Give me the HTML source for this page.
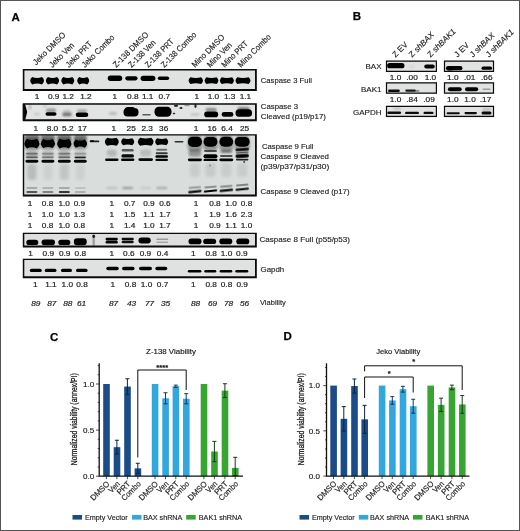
<!DOCTYPE html>
<html><head><meta charset="utf-8"><title>Figure</title>
<style>html,body{margin:0;padding:0;background:#fff}svg{display:block}text{font-family:"Liberation Sans",sans-serif}</style>
</head><body>
<svg width="520" height="531" viewBox="0 0 520 531" font-family="'Liberation Sans', sans-serif">
<defs>
<filter id="b1" x="-30%" y="-60%" width="160%" height="220%"><feGaussianBlur stdDeviation="0.7"/></filter>
<filter id="b2" x="-30%" y="-60%" width="160%" height="220%"><feGaussianBlur stdDeviation="1.1"/></filter>
<filter id="b3" x="-30%" y="-80%" width="160%" height="260%"><feGaussianBlur stdDeviation="1.8"/></filter>
<filter id="b0" x="-30%" y="-60%" width="160%" height="220%"><feGaussianBlur stdDeviation="0.45"/></filter>
</defs>
<rect x="0" y="0" width="520" height="531" fill="#fff"/>
<g opacity="0.999">
<text x="11.4" y="20.7" font-size="11.5" text-anchor="start" fill="#000" font-weight="bold" stroke="#000" stroke-width="0.25">A</text>
<text x="352.7" y="20.4" font-size="11.5" text-anchor="start" fill="#000" font-weight="bold" stroke="#000" stroke-width="0.25">B</text>
<text x="50.1" y="340.5" font-size="11.5" text-anchor="start" fill="#000" font-weight="bold" stroke="#000" stroke-width="0.25">C</text>
<text x="283.4" y="340.3" font-size="11.5" text-anchor="start" fill="#000" font-weight="bold" stroke="#000" stroke-width="0.25">D</text>
<text font-size="8.3" text-anchor="start" fill="#1c1c1c" transform="translate(36.2 65.5) rotate(-45) scale(0.95 1)"  stroke="#1c1c1c" stroke-width="0.14">Jeko DMSO</text>
<text font-size="8.3" text-anchor="start" fill="#1c1c1c" transform="translate(52.6 68) rotate(-45) scale(0.914 1)"  stroke="#1c1c1c" stroke-width="0.14">Jeko Ven</text>
<text font-size="8.3" text-anchor="start" fill="#1c1c1c" transform="translate(69 68) rotate(-45) scale(0.914 1)"  stroke="#1c1c1c" stroke-width="0.14">Jeko PRT</text>
<text font-size="8.3" text-anchor="start" fill="#1c1c1c" transform="translate(85 68) rotate(-45) scale(0.914 1)"  stroke="#1c1c1c" stroke-width="0.14">Jeko Combo</text>
<text font-size="8.3" text-anchor="start" fill="#1c1c1c" transform="translate(116.2 68) rotate(-45) scale(0.95 1)"  stroke="#1c1c1c" stroke-width="0.14">Z-138 DMSO</text>
<text font-size="8.3" text-anchor="start" fill="#1c1c1c" transform="translate(131.6 68) rotate(-45) scale(0.914 1)"  stroke="#1c1c1c" stroke-width="0.14">Z-138 Ven</text>
<text font-size="8.3" text-anchor="start" fill="#1c1c1c" transform="translate(148.3 68) rotate(-45) scale(0.914 1)"  stroke="#1c1c1c" stroke-width="0.14">Z-138 PRT</text>
<text font-size="8.3" text-anchor="start" fill="#1c1c1c" transform="translate(164.3 68) rotate(-45) scale(0.914 1)"  stroke="#1c1c1c" stroke-width="0.14">Z-138 Combo</text>
<text font-size="8.3" text-anchor="start" fill="#1c1c1c" transform="translate(194.9 68) rotate(-45) scale(0.95 1)"  stroke="#1c1c1c" stroke-width="0.14">Mino DMSO</text>
<text font-size="8.3" text-anchor="start" fill="#1c1c1c" transform="translate(210.2 68) rotate(-45) scale(0.914 1)"  stroke="#1c1c1c" stroke-width="0.14">Mino Ven</text>
<text font-size="8.3" text-anchor="start" fill="#1c1c1c" transform="translate(224.7 68) rotate(-45) scale(0.914 1)"  stroke="#1c1c1c" stroke-width="0.14">Mino PRT</text>
<text font-size="8.3" text-anchor="start" fill="#1c1c1c" transform="translate(241 68) rotate(-45) scale(0.914 1)"  stroke="#1c1c1c" stroke-width="0.14">Mino Combo</text>
<rect x="22.8" y="69.1" width="234.0" height="21.900000000000006" fill="#dfe2e1"/>
<clipPath id="c1"><rect x="22.8" y="69.1" width="234.0" height="21.900000000000006"/></clipPath><g clip-path="url(#c1)">
<path d="M32.22 77.00Q37.10 78.80 41.98 77.00Q46.05 80.70 41.98 84.40Q37.10 82.60 32.22 84.40Q28.15 80.70 32.22 77.00Z" fill="#000" opacity="1.0" filter="url(#b1)"/>
<path d="M47.92 77.00Q52.50 78.80 57.08 77.00Q61.15 80.70 57.08 84.40Q52.50 82.60 47.92 84.40Q43.85 80.70 47.92 77.00Z" fill="#000" opacity="1.0" filter="url(#b1)"/>
<path d="M63.32 77.00Q67.80 78.80 72.28 77.00Q76.35 80.70 72.28 84.40Q67.80 82.60 63.32 84.40Q59.25 80.70 63.32 77.00Z" fill="#000" opacity="1.0" filter="url(#b1)"/>
<path d="M79.22 77.00Q83.20 78.80 87.18 77.00Q91.25 80.70 87.18 84.40Q83.20 82.60 79.22 84.40Q75.15 80.70 79.22 77.00Z" fill="#000" opacity="1.0" filter="url(#b1)"/>
<rect x="107.75" y="75.60" width="14.5" height="5.4" rx="2.7" fill="#000" opacity="1.0" filter="url(#b1)"/>
<rect x="125.25" y="76.20" width="12.3" height="4.2" rx="2.1" fill="#000" opacity="1.0" filter="url(#b1)"/>
<rect x="140.60" y="75.70" width="14.8" height="5.2" rx="2.6" fill="#000" opacity="1.0" filter="url(#b1)"/>
<rect x="157.80" y="76.50" width="11.4" height="3.6" rx="1.8" fill="#000" opacity="1.0" filter="url(#b1)"/>
<path d="M190.44 77.30Q195.80 78.90 201.16 77.30Q204.90 80.70 201.16 84.10Q195.80 82.50 190.44 84.10Q186.70 80.70 190.44 77.30Z" fill="#000" opacity="1.0" filter="url(#b1)"/>
<path d="M206.44 77.30Q211.50 78.90 216.56 77.30Q220.30 80.70 216.56 84.10Q211.50 82.50 206.44 84.10Q202.70 80.70 206.44 77.30Z" fill="#000" opacity="1.0" filter="url(#b1)"/>
<path d="M221.74 77.30Q226.90 78.90 232.06 77.30Q235.80 80.70 232.06 84.10Q226.90 82.50 221.74 84.10Q218.00 80.70 221.74 77.30Z" fill="#000" opacity="1.0" filter="url(#b1)"/>
<path d="M237.34 77.30Q243.00 78.90 248.66 77.30Q252.40 80.70 248.66 84.10Q243.00 82.50 237.34 84.10Q233.60 80.70 237.34 77.30Z" fill="#000" opacity="1.0" filter="url(#b1)"/>
</g>
<path fill="#0c0c0c" fill-rule="evenodd" d="M22.8 69.1H256.8V91H22.8ZM24.400000000000002 70.39999999999999V89.0H255.0V70.39999999999999Z"/>
<text font-size="7.2" text-anchor="middle" fill="#1c1c1c" transform="translate(37.1 98.6) scale(1.15 1)" stroke="#1c1c1c" stroke-width="0.18">1</text>
<text font-size="7.2" text-anchor="middle" fill="#1c1c1c" transform="translate(53.7 98.6) scale(1.15 1)" stroke="#1c1c1c" stroke-width="0.18">0.9</text>
<text font-size="7.2" text-anchor="middle" fill="#1c1c1c" transform="translate(68.2 98.6) scale(1.15 1)" stroke="#1c1c1c" stroke-width="0.18">1.2</text>
<text font-size="7.2" text-anchor="middle" fill="#1c1c1c" transform="translate(85.9 98.6) scale(1.15 1)" stroke="#1c1c1c" stroke-width="0.18">1.2</text>
<text font-size="7.2" text-anchor="middle" fill="#1c1c1c" transform="translate(114.8 98.6) scale(1.15 1)" stroke="#1c1c1c" stroke-width="0.18">1</text>
<text font-size="7.2" text-anchor="middle" fill="#1c1c1c" transform="translate(132.8 98.6) scale(1.15 1)" stroke="#1c1c1c" stroke-width="0.18">0.8</text>
<text font-size="7.2" text-anchor="middle" fill="#1c1c1c" transform="translate(147.7 98.6) scale(1.15 1)" stroke="#1c1c1c" stroke-width="0.18">1.1</text>
<text font-size="7.2" text-anchor="middle" fill="#1c1c1c" transform="translate(164.3 98.6) scale(1.15 1)" stroke="#1c1c1c" stroke-width="0.18">0.7</text>
<text font-size="7.2" text-anchor="middle" fill="#1c1c1c" transform="translate(196.9 98.6) scale(1.15 1)" stroke="#1c1c1c" stroke-width="0.18">1</text>
<text font-size="7.2" text-anchor="middle" fill="#1c1c1c" transform="translate(213.4 98.6) scale(1.15 1)" stroke="#1c1c1c" stroke-width="0.18">1.0</text>
<text font-size="7.2" text-anchor="middle" fill="#1c1c1c" transform="translate(229.7 98.6) scale(1.15 1)" stroke="#1c1c1c" stroke-width="0.18">1.3</text>
<text font-size="7.2" text-anchor="middle" fill="#1c1c1c" transform="translate(245.4 98.6) scale(1.15 1)" stroke="#1c1c1c" stroke-width="0.18">1.1</text>
<rect x="22.8" y="103.2" width="234.0" height="18.0" fill="#e1e4e3"/>
<clipPath id="c2"><rect x="22.8" y="103.2" width="234.0" height="18.0"/></clipPath><g clip-path="url(#c2)">
<path d="M22 104 L25 104 L27.2 112 L25 120.5 L22 120.5Z" fill="#000" filter="url(#b0)"/>
<rect x="29.00" y="104.50" width="2" height="5" rx="2.5" fill="#000" opacity="0.25" filter="url(#b2)"/>
<rect x="43.50" y="105.00" width="3" height="2" rx="1.0" fill="#000" opacity="0.2" filter="url(#b2)"/>
<rect x="34.00" y="112.50" width="6" height="3" rx="1.5" fill="#000" opacity="0.1" filter="url(#b2)"/>
<rect x="46.00" y="108.50" width="10" height="4" rx="2.0" fill="#000" opacity="0.32" filter="url(#b2)"/>
<rect x="45.50" y="112.20" width="11" height="3.6" rx="1.8" fill="#000" opacity="1" filter="url(#b1)"/>
<rect x="63.00" y="110.00" width="8" height="3" rx="1.5" fill="#000" opacity="0.15" filter="url(#b2)"/>
<rect x="62.25" y="112.70" width="9.5" height="3.6" rx="1.8" fill="#000" opacity="0.5" filter="url(#b2)"/>
<rect x="77.00" y="109.50" width="10" height="3" rx="1.5" fill="#000" opacity="0.3" filter="url(#b2)"/>
<rect x="75.75" y="112.50" width="12.5" height="4.6" rx="2.3" fill="#000" opacity="1" filter="url(#b1)"/>
<rect x="109.00" y="112.00" width="8" height="3" rx="1.5" fill="#000" opacity="0.18" filter="url(#b2)"/>
<rect x="123.50" y="108.05" width="15" height="8.5" rx="4" fill="#000" opacity="1" filter="url(#b1)"/>
<rect x="125.00" y="107.00" width="10" height="5" rx="2.5" fill="#000" opacity="1" filter="url(#b1)"/>
<rect x="142.25" y="114.00" width="8.5" height="1.6" rx="0.8" fill="#000" opacity="0.6" filter="url(#b1)"/>
<rect x="154.50" y="106.80" width="17" height="10" rx="4.5" fill="#000" opacity="1" filter="url(#b1)"/>
<rect x="174.00" y="104.90" width="4" height="1.8" rx="0.9" fill="#000" opacity="0.9" filter="url(#b0)"/>
<rect x="179.50" y="107.00" width="3" height="2" rx="1.0" fill="#000" opacity="0.8" filter="url(#b0)"/>
<rect x="172.75" y="112.75" width="2.5" height="1.5" rx="0.75" fill="#000" opacity="0.8" filter="url(#b0)"/>
<rect x="194.40" y="104.00" width="2.2" height="4" rx="2.0" fill="#000" opacity="0.85" filter="url(#b0)"/>
<rect x="184.50" y="104.75" width="5" height="1.5" rx="0.75" fill="#000" opacity="0.3" filter="url(#b1)"/>
<rect x="190.50" y="113.25" width="9" height="2.5" rx="1.25" fill="#000" opacity="0.15" filter="url(#b2)"/>
<rect x="205.70" y="108.05" width="11" height="3.5" rx="1.75" fill="#000" opacity="0.4" filter="url(#b2)"/>
<rect x="204.20" y="111.60" width="14" height="5.6" rx="2.8" fill="#000" opacity="1" filter="url(#b1)"/>
<rect x="221.60" y="112.00" width="11.8" height="4.8" rx="2.4" fill="#000" opacity="0.97" filter="url(#b1)"/>
<rect x="237.60" y="107.25" width="12" height="3.5" rx="1.75" fill="#000" opacity="0.5" filter="url(#b2)"/>
<rect x="235.55" y="109.20" width="16.5" height="7.6" rx="3.5" fill="#000" opacity="1" filter="url(#b1)"/>
</g>
<path fill="#0c0c0c" fill-rule="evenodd" d="M22.8 103.2H256.8V121.2H22.8ZM24.8 104.7V119.2H255.0V104.7Z"/>
<text font-size="7.2" text-anchor="middle" fill="#1c1c1c" transform="translate(35.8 130.6) scale(1.15 1)" stroke="#1c1c1c" stroke-width="0.18">1</text>
<text font-size="7.2" text-anchor="middle" fill="#1c1c1c" transform="translate(52.4 130.6) scale(1.15 1)" stroke="#1c1c1c" stroke-width="0.18">8.0</text>
<text font-size="7.2" text-anchor="middle" fill="#1c1c1c" transform="translate(67.8 130.6) scale(1.15 1)" stroke="#1c1c1c" stroke-width="0.18">5.2</text>
<text font-size="7.2" text-anchor="middle" fill="#1c1c1c" transform="translate(82.3 130.6) scale(1.15 1)" stroke="#1c1c1c" stroke-width="0.18">17</text>
<text font-size="7.2" text-anchor="middle" fill="#1c1c1c" transform="translate(113.8 130.6) scale(1.15 1)" stroke="#1c1c1c" stroke-width="0.18">1</text>
<text font-size="7.2" text-anchor="middle" fill="#1c1c1c" transform="translate(131.2 130.6) scale(1.15 1)" stroke="#1c1c1c" stroke-width="0.18">25</text>
<text font-size="7.2" text-anchor="middle" fill="#1c1c1c" transform="translate(147.2 130.6) scale(1.15 1)" stroke="#1c1c1c" stroke-width="0.18">2.3</text>
<text font-size="7.2" text-anchor="middle" fill="#1c1c1c" transform="translate(163.7 130.6) scale(1.15 1)" stroke="#1c1c1c" stroke-width="0.18">36</text>
<text font-size="7.2" text-anchor="middle" fill="#1c1c1c" transform="translate(196 130.6) scale(1.15 1)" stroke="#1c1c1c" stroke-width="0.18">1</text>
<text font-size="7.2" text-anchor="middle" fill="#1c1c1c" transform="translate(212 130.6) scale(1.15 1)" stroke="#1c1c1c" stroke-width="0.18">16</text>
<text font-size="7.2" text-anchor="middle" fill="#1c1c1c" transform="translate(227 130.6) scale(1.15 1)" stroke="#1c1c1c" stroke-width="0.18">6.4</text>
<text font-size="7.2" text-anchor="middle" fill="#1c1c1c" transform="translate(244.6 130.6) scale(1.15 1)" stroke="#1c1c1c" stroke-width="0.18">25</text>
<rect x="22.8" y="134.3" width="234.0" height="62.29999999999998" fill="#d9dddc"/>
<clipPath id="c3"><rect x="22.8" y="134.3" width="234.0" height="62.29999999999998"/></clipPath><g clip-path="url(#c3)">
<rect x="24.40" y="134.50" width="15" height="7" rx="3" fill="#000" opacity="0.45" filter="url(#b2)"/>
<rect x="40.90" y="134.50" width="14" height="7" rx="3" fill="#000" opacity="0.45" filter="url(#b2)"/>
<rect x="57.05" y="134.50" width="14.5" height="7" rx="3" fill="#000" opacity="0.45" filter="url(#b2)"/>
<rect x="73.80" y="134.50" width="13" height="7" rx="3" fill="#000" opacity="0.45" filter="url(#b2)"/>
<rect x="187.90" y="135.00" width="14" height="4" rx="2.0" fill="#000" opacity="0.3" filter="url(#b2)"/>
<rect x="204.00" y="135.00" width="13" height="4" rx="2.0" fill="#000" opacity="0.3" filter="url(#b2)"/>
<rect x="219.80" y="135.00" width="13" height="4" rx="2.0" fill="#000" opacity="0.3" filter="url(#b2)"/>
<rect x="235.70" y="135.00" width="13" height="4" rx="2.0" fill="#000" opacity="0.3" filter="url(#b2)"/>
<path d="M27.04 138.70Q31.90 141.10 36.76 138.70Q42.15 143.60 36.76 148.50Q31.90 146.10 27.04 148.50Q21.65 143.60 27.04 138.70Z" fill="#000" opacity="1" filter="url(#b1)"/>
<rect x="24.10" y="137.85" width="15.6" height="12.3" rx="4" fill="#000" opacity="0.3" filter="url(#b2)"/>
<path d="M43.30 139.10Q47.90 141.50 52.50 139.10Q57.45 143.60 52.50 148.10Q47.90 145.70 43.30 148.10Q38.35 143.60 43.30 139.10Z" fill="#000" opacity="1" filter="url(#b1)"/>
<rect x="40.60" y="138.25" width="14.6" height="11.5" rx="4" fill="#000" opacity="0.3" filter="url(#b2)"/>
<path d="M59.84 138.70Q64.30 141.10 68.76 138.70Q74.15 143.60 68.76 148.50Q64.30 146.10 59.84 148.50Q54.45 143.60 59.84 138.70Z" fill="#000" opacity="1" filter="url(#b1)"/>
<rect x="56.90" y="137.85" width="14.8" height="12.3" rx="4" fill="#000" opacity="0.3" filter="url(#b2)"/>
<path d="M75.92 139.40Q80.30 141.80 84.68 139.40Q89.30 143.60 84.68 147.80Q80.30 145.40 75.92 147.80Q71.30 143.60 75.92 139.40Z" fill="#000" opacity="1" filter="url(#b1)"/>
<rect x="73.40" y="138.55" width="13.8" height="10.9" rx="4" fill="#000" opacity="0.3" filter="url(#b2)"/>
<rect x="89.75" y="140.50" width="9.5" height="1.8" rx="0.9" fill="#000" opacity="0.85" filter="url(#b0)"/>
<rect x="90.00" y="139.90" width="4" height="2.2" rx="1.1" fill="#000" opacity="0.8" filter="url(#b0)"/>
<path d="M107.10 137.80Q111.80 139.20 116.50 137.80Q120.90 141.80 116.50 145.80Q111.80 144.40 107.10 145.80Q102.70 141.80 107.10 137.80Z" fill="#000" opacity="1" filter="url(#b1)"/>
<path d="M123.10 138.30Q127.70 139.70 132.30 138.30Q136.15 141.80 132.30 145.30Q127.70 143.90 123.10 145.30Q119.25 141.80 123.10 138.30Z" fill="#000" opacity="1" filter="url(#b1)"/>
<path d="M140.10 137.80Q145.70 139.20 151.30 137.80Q155.70 141.80 151.30 145.80Q145.70 144.40 140.10 145.80Q135.70 141.80 140.10 137.80Z" fill="#000" opacity="1" filter="url(#b1)"/>
<path d="M157.10 138.30Q161.70 139.70 166.30 138.30Q170.15 141.80 166.30 145.30Q161.70 143.90 157.10 145.30Q153.25 141.80 157.10 138.30Z" fill="#000" opacity="1" filter="url(#b1)"/>
<rect x="174.50" y="141.00" width="9" height="1.6" rx="0.8" fill="#000" opacity="0.8" filter="url(#b0)"/>
<rect x="187.80" y="136.70" width="14.2" height="10.2" rx="5" fill="#000" opacity="1" filter="url(#b1)"/>
<rect x="187.55" y="137.40" width="14.7" height="14.2" rx="5" fill="#000" opacity="0.32" filter="url(#b2)"/>
<rect x="203.50" y="136.90" width="14" height="9.8" rx="5" fill="#000" opacity="1" filter="url(#b1)"/>
<rect x="203.25" y="137.60" width="14.5" height="13.8" rx="5" fill="#000" opacity="0.32" filter="url(#b2)"/>
<rect x="219.40" y="136.80" width="13.8" height="10" rx="5" fill="#000" opacity="1" filter="url(#b1)"/>
<rect x="219.15" y="137.50" width="14.3" height="14" rx="5" fill="#000" opacity="0.32" filter="url(#b2)"/>
<rect x="234.70" y="136.90" width="15" height="9.8" rx="5" fill="#000" opacity="1" filter="url(#b1)"/>
<rect x="234.45" y="137.60" width="15.5" height="13.8" rx="5" fill="#000" opacity="0.32" filter="url(#b2)"/>
<rect x="25.90" y="151.50" width="12" height="6" rx="3.0" fill="#000" opacity="0.252" filter="url(#b2)"/>
<rect x="25.90" y="152.80" width="12" height="1.6" rx="0.8" fill="#000" opacity="0.336" filter="url(#b1)"/>
<rect x="25.90" y="156.40" width="12" height="1.8" rx="0.9" fill="#000" opacity="0.52" filter="url(#b1)"/>
<rect x="25.50" y="159.85" width="12.8" height="2.9" rx="1.45" fill="#000" opacity="0.97" filter="url(#b0)"/>
<rect x="41.90" y="151.50" width="12" height="6" rx="3.0" fill="#000" opacity="0.192" filter="url(#b2)"/>
<rect x="41.90" y="152.80" width="12" height="1.6" rx="0.8" fill="#000" opacity="0.256" filter="url(#b1)"/>
<rect x="41.90" y="156.40" width="12" height="1.8" rx="0.9" fill="#000" opacity="0.42000000000000004" filter="url(#b1)"/>
<rect x="41.50" y="159.85" width="12.8" height="2.9" rx="1.45" fill="#000" opacity="0.97" filter="url(#b0)"/>
<rect x="58.30" y="151.50" width="12" height="6" rx="3.0" fill="#000" opacity="0.22799999999999998" filter="url(#b2)"/>
<rect x="58.30" y="152.80" width="12" height="1.6" rx="0.8" fill="#000" opacity="0.30400000000000005" filter="url(#b1)"/>
<rect x="58.30" y="156.40" width="12" height="1.8" rx="0.9" fill="#000" opacity="0.48" filter="url(#b1)"/>
<rect x="57.90" y="159.85" width="12.8" height="2.9" rx="1.45" fill="#000" opacity="0.97" filter="url(#b0)"/>
<rect x="74.30" y="151.50" width="12" height="6" rx="3.0" fill="#000" opacity="0.15" filter="url(#b2)"/>
<rect x="74.30" y="152.80" width="12" height="1.6" rx="0.8" fill="#000" opacity="0.2" filter="url(#b1)"/>
<rect x="74.30" y="156.40" width="12" height="1.8" rx="0.9" fill="#000" opacity="0.35" filter="url(#b1)"/>
<rect x="73.90" y="159.85" width="12.8" height="2.9" rx="1.45" fill="#000" opacity="0.97" filter="url(#b0)"/>
<rect x="74.80" y="156.75" width="11" height="1.5" rx="0.75" fill="#000" opacity="0.75" filter="url(#b0)"/>
<rect x="27.40" y="164.00" width="9" height="16" rx="3" fill="#000" opacity="0.14" filter="url(#b3)"/>
<rect x="43.40" y="164.00" width="9" height="16" rx="3" fill="#000" opacity="0.05" filter="url(#b3)"/>
<rect x="59.80" y="164.00" width="9" height="16" rx="3" fill="#000" opacity="0.1" filter="url(#b3)"/>
<rect x="75.80" y="164.00" width="9" height="16" rx="3" fill="#000" opacity="0.05" filter="url(#b3)"/>
<rect x="106.80" y="149.50" width="10" height="7" rx="3" fill="#000" opacity="0.16" filter="url(#b2)"/>
<rect x="105.10" y="158.50" width="13.4" height="2.6" rx="1.3" fill="#000" opacity="0.97" filter="url(#b0)"/>
<rect x="121.70" y="149.10" width="12" height="2.4" rx="1.2" fill="#000" opacity="0.6" filter="url(#b1)"/>
<rect x="121.40" y="154.25" width="12.6" height="3.3" rx="1.65" fill="#000" opacity="0.95" filter="url(#b0)"/>
<rect x="121.00" y="158.50" width="13.4" height="2.6" rx="1.3" fill="#000" opacity="1" filter="url(#b0)"/>
<rect x="140.20" y="149.50" width="11" height="7" rx="3" fill="#000" opacity="0.14" filter="url(#b2)"/>
<rect x="138.45" y="158.30" width="14.5" height="2.6" rx="1.3" fill="#000" opacity="0.97" filter="url(#b0)"/>
<rect x="156.20" y="148.80" width="11" height="2" rx="1.0" fill="#000" opacity="0.5" filter="url(#b1)"/>
<rect x="155.70" y="152.20" width="12" height="2" rx="1.0" fill="#000" opacity="0.75" filter="url(#b0)"/>
<rect x="155.40" y="155.35" width="12.6" height="2.5" rx="1.25" fill="#000" opacity="1" filter="url(#b0)"/>
<rect x="155.40" y="158.75" width="12.6" height="2.3" rx="1.15" fill="#000" opacity="1" filter="url(#b0)"/>
<rect x="188.65" y="149.25" width="12.5" height="7.5" rx="3" fill="#000" opacity="0.32" filter="url(#b2)"/>
<rect x="187.90" y="158.45" width="14" height="2.7" rx="1.35" fill="#000" opacity="1" filter="url(#b0)"/>
<rect x="204.00" y="149.90" width="13" height="2.2" rx="1.1" fill="#000" opacity="0.6" filter="url(#b1)"/>
<rect x="203.50" y="154.30" width="14" height="4" rx="2.0" fill="#000" opacity="1" filter="url(#b0)"/>
<rect x="203.50" y="158.70" width="14" height="2.4" rx="1.2" fill="#000" opacity="1" filter="url(#b0)"/>
<rect x="220.30" y="150.00" width="12" height="3" rx="1.5" fill="#000" opacity="0.4" filter="url(#b2)"/>
<rect x="220.05" y="155.00" width="12.5" height="2" rx="1.0" fill="#000" opacity="0.65" filter="url(#b1)"/>
<rect x="219.30" y="158.40" width="14" height="2.8" rx="1.4" fill="#000" opacity="1" filter="url(#b0)"/>
<rect x="235.45" y="148.25" width="13.5" height="2.5" rx="1.25" fill="#000" opacity="0.97" filter="url(#b0)" transform="rotate(-4 242.2 149.5)"/>
<rect x="235.70" y="151.70" width="13" height="1.8" rx="0.9" fill="#000" opacity="0.6" filter="url(#b1)" transform="rotate(-4 242.2 152.6)"/>
<rect x="235.45" y="154.30" width="13.5" height="3.4" rx="1.7" fill="#000" opacity="1" filter="url(#b0)" transform="rotate(-3 242.2 156)"/>
<rect x="235.95" y="158.70" width="12.5" height="1.8" rx="0.9" fill="#000" opacity="0.85" filter="url(#b0)"/>
<rect x="189.90" y="163.00" width="10" height="14" rx="3" fill="#000" opacity="0.07" filter="url(#b3)"/>
<rect x="205.50" y="163.00" width="10" height="14" rx="3" fill="#000" opacity="0.08" filter="url(#b3)"/>
<rect x="221.30" y="163.00" width="10" height="14" rx="3" fill="#000" opacity="0.07" filter="url(#b3)"/>
<rect x="237.20" y="163.00" width="10" height="14" rx="3" fill="#000" opacity="0.07" filter="url(#b3)"/>
<rect x="243.20" y="161.00" width="2" height="1.8" rx="0.9" fill="#000" opacity="0.7" filter="url(#b0)"/>
<rect x="209.00" y="164.50" width="2" height="2" rx="1.0" fill="#000" opacity="0.3" filter="url(#b1)"/>
<rect x="26.40" y="187.20" width="11" height="1.6" rx="0.8" fill="#000" opacity="0.3" filter="url(#b1)"/>
<rect x="26.40" y="190.90" width="11" height="2" rx="1.0" fill="#000" opacity="0.6" filter="url(#b1)"/>
<rect x="42.40" y="187.20" width="11" height="1.6" rx="0.8" fill="#000" opacity="0.25" filter="url(#b1)"/>
<rect x="42.40" y="190.90" width="11" height="2" rx="1.0" fill="#000" opacity="0.4" filter="url(#b1)"/>
<rect x="58.80" y="187.20" width="11" height="1.6" rx="0.8" fill="#000" opacity="0.3" filter="url(#b1)"/>
<rect x="58.80" y="190.90" width="11" height="2" rx="1.0" fill="#000" opacity="0.75" filter="url(#b1)"/>
<rect x="74.80" y="187.20" width="11" height="1.6" rx="0.8" fill="#000" opacity="0.15" filter="url(#b1)"/>
<rect x="74.80" y="190.90" width="11" height="2" rx="1.0" fill="#000" opacity="0.2" filter="url(#b1)"/>
<rect x="106.30" y="186.90" width="11" height="2.2" rx="1.1" fill="#000" opacity="0.15" filter="url(#b2)"/>
<rect x="122.20" y="186.90" width="11" height="2.2" rx="1.1" fill="#000" opacity="0.32" filter="url(#b2)"/>
<rect x="140.20" y="186.90" width="11" height="2.2" rx="1.1" fill="#000" opacity="0.1" filter="url(#b2)"/>
<rect x="156.20" y="186.90" width="11" height="2.2" rx="1.1" fill="#000" opacity="0.25" filter="url(#b2)"/>
<rect x="188.65" y="186.40" width="12.5" height="2.2" rx="1.1" fill="#000" opacity="0.3" filter="url(#b1)" transform="rotate(-5 194.9 187.5)"/>
<rect x="188.15" y="190.55" width="13.5" height="2.1" rx="1.05" fill="#000" opacity="0.97" filter="url(#b0)" transform="rotate(-6 194.9 191.6)"/>
<rect x="204.25" y="185.90" width="12.5" height="2.2" rx="1.1" fill="#000" opacity="0.35" filter="url(#b1)" transform="rotate(-5 210.5 187)"/>
<rect x="203.75" y="189.95" width="13.5" height="2.1" rx="1.05" fill="#000" opacity="0.97" filter="url(#b0)" transform="rotate(-6 210.5 191)"/>
<rect x="220.05" y="185.20" width="12.5" height="2.2" rx="1.1" fill="#000" opacity="0.35" filter="url(#b1)" transform="rotate(-5 226.3 186.3)"/>
<rect x="219.55" y="189.35" width="13.5" height="2.1" rx="1.05" fill="#000" opacity="0.97" filter="url(#b0)" transform="rotate(-6 226.3 190.4)"/>
<rect x="235.95" y="183.90" width="12.5" height="2.2" rx="1.1" fill="#000" opacity="0.4" filter="url(#b1)" transform="rotate(-5 242.2 185)"/>
<rect x="235.45" y="188.15" width="13.5" height="2.1" rx="1.05" fill="#000" opacity="0.97" filter="url(#b0)" transform="rotate(-6 242.2 189.2)"/>
</g>
<path fill="#0c0c0c" fill-rule="evenodd" d="M22.8 134.3H256.8V196.6H22.8ZM24.2 135.5V194.6H255.0V135.5Z"/>
<text font-size="7.2" text-anchor="middle" fill="#1c1c1c" transform="translate(30 205.5) scale(1.15 1)" stroke="#1c1c1c" stroke-width="0.18">1</text>
<text font-size="7.2" text-anchor="middle" fill="#1c1c1c" transform="translate(47.6 205.5) scale(1.15 1)" stroke="#1c1c1c" stroke-width="0.18">0.8</text>
<text font-size="7.2" text-anchor="middle" fill="#1c1c1c" transform="translate(64.2 205.5) scale(1.15 1)" stroke="#1c1c1c" stroke-width="0.18">1.0</text>
<text font-size="7.2" text-anchor="middle" fill="#1c1c1c" transform="translate(79.4 205.5) scale(1.15 1)" stroke="#1c1c1c" stroke-width="0.18">0.9</text>
<text font-size="7.2" text-anchor="middle" fill="#1c1c1c" transform="translate(111.7 205.5) scale(1.15 1)" stroke="#1c1c1c" stroke-width="0.18">1</text>
<text font-size="7.2" text-anchor="middle" fill="#1c1c1c" transform="translate(129.7 205.5) scale(1.15 1)" stroke="#1c1c1c" stroke-width="0.18">0.7</text>
<text font-size="7.2" text-anchor="middle" fill="#1c1c1c" transform="translate(148.9 205.5) scale(1.15 1)" stroke="#1c1c1c" stroke-width="0.18">0.9</text>
<text font-size="7.2" text-anchor="middle" fill="#1c1c1c" transform="translate(164.9 205.5) scale(1.15 1)" stroke="#1c1c1c" stroke-width="0.18">0.6</text>
<text font-size="7.2" text-anchor="middle" fill="#1c1c1c" transform="translate(196 205.5) scale(1.15 1)" stroke="#1c1c1c" stroke-width="0.18">1</text>
<text font-size="7.2" text-anchor="middle" fill="#1c1c1c" transform="translate(214.9 205.5) scale(1.15 1)" stroke="#1c1c1c" stroke-width="0.18">0.8</text>
<text font-size="7.2" text-anchor="middle" fill="#1c1c1c" transform="translate(231.1 205.5) scale(1.15 1)" stroke="#1c1c1c" stroke-width="0.18">1.0</text>
<text font-size="7.2" text-anchor="middle" fill="#1c1c1c" transform="translate(246.5 205.5) scale(1.15 1)" stroke="#1c1c1c" stroke-width="0.18">0.8</text>
<text font-size="7.2" text-anchor="middle" fill="#1c1c1c" transform="translate(30 216.9) scale(1.15 1)" stroke="#1c1c1c" stroke-width="0.18">1</text>
<text font-size="7.2" text-anchor="middle" fill="#1c1c1c" transform="translate(47.6 216.9) scale(1.15 1)" stroke="#1c1c1c" stroke-width="0.18">1.0</text>
<text font-size="7.2" text-anchor="middle" fill="#1c1c1c" transform="translate(64.2 216.9) scale(1.15 1)" stroke="#1c1c1c" stroke-width="0.18">1.0</text>
<text font-size="7.2" text-anchor="middle" fill="#1c1c1c" transform="translate(79.4 216.9) scale(1.15 1)" stroke="#1c1c1c" stroke-width="0.18">1.3</text>
<text font-size="7.2" text-anchor="middle" fill="#1c1c1c" transform="translate(111.7 216.9) scale(1.15 1)" stroke="#1c1c1c" stroke-width="0.18">1</text>
<text font-size="7.2" text-anchor="middle" fill="#1c1c1c" transform="translate(129.7 216.9) scale(1.15 1)" stroke="#1c1c1c" stroke-width="0.18">1.5</text>
<text font-size="7.2" text-anchor="middle" fill="#1c1c1c" transform="translate(148.9 216.9) scale(1.15 1)" stroke="#1c1c1c" stroke-width="0.18">1.1</text>
<text font-size="7.2" text-anchor="middle" fill="#1c1c1c" transform="translate(164.9 216.9) scale(1.15 1)" stroke="#1c1c1c" stroke-width="0.18">1.7</text>
<text font-size="7.2" text-anchor="middle" fill="#1c1c1c" transform="translate(196 216.9) scale(1.15 1)" stroke="#1c1c1c" stroke-width="0.18">1</text>
<text font-size="7.2" text-anchor="middle" fill="#1c1c1c" transform="translate(214.9 216.9) scale(1.15 1)" stroke="#1c1c1c" stroke-width="0.18">1.9</text>
<text font-size="7.2" text-anchor="middle" fill="#1c1c1c" transform="translate(231.1 216.9) scale(1.15 1)" stroke="#1c1c1c" stroke-width="0.18">1.6</text>
<text font-size="7.2" text-anchor="middle" fill="#1c1c1c" transform="translate(246.5 216.9) scale(1.15 1)" stroke="#1c1c1c" stroke-width="0.18">2.3</text>
<text font-size="7.2" text-anchor="middle" fill="#1c1c1c" transform="translate(30 228.4) scale(1.15 1)" stroke="#1c1c1c" stroke-width="0.18">1</text>
<text font-size="7.2" text-anchor="middle" fill="#1c1c1c" transform="translate(47.6 228.4) scale(1.15 1)" stroke="#1c1c1c" stroke-width="0.18">0.8</text>
<text font-size="7.2" text-anchor="middle" fill="#1c1c1c" transform="translate(64.2 228.4) scale(1.15 1)" stroke="#1c1c1c" stroke-width="0.18">1.0</text>
<text font-size="7.2" text-anchor="middle" fill="#1c1c1c" transform="translate(79.4 228.4) scale(1.15 1)" stroke="#1c1c1c" stroke-width="0.18">0.8</text>
<text font-size="7.2" text-anchor="middle" fill="#1c1c1c" transform="translate(111.7 228.4) scale(1.15 1)" stroke="#1c1c1c" stroke-width="0.18">1</text>
<text font-size="7.2" text-anchor="middle" fill="#1c1c1c" transform="translate(129.7 228.4) scale(1.15 1)" stroke="#1c1c1c" stroke-width="0.18">1.4</text>
<text font-size="7.2" text-anchor="middle" fill="#1c1c1c" transform="translate(148.9 228.4) scale(1.15 1)" stroke="#1c1c1c" stroke-width="0.18">1.0</text>
<text font-size="7.2" text-anchor="middle" fill="#1c1c1c" transform="translate(164.9 228.4) scale(1.15 1)" stroke="#1c1c1c" stroke-width="0.18">1.7</text>
<text font-size="7.2" text-anchor="middle" fill="#1c1c1c" transform="translate(196 228.4) scale(1.15 1)" stroke="#1c1c1c" stroke-width="0.18">1</text>
<text font-size="7.2" text-anchor="middle" fill="#1c1c1c" transform="translate(214.9 228.4) scale(1.15 1)" stroke="#1c1c1c" stroke-width="0.18">0.9</text>
<text font-size="7.2" text-anchor="middle" fill="#1c1c1c" transform="translate(231.1 228.4) scale(1.15 1)" stroke="#1c1c1c" stroke-width="0.18">1.1</text>
<text font-size="7.2" text-anchor="middle" fill="#1c1c1c" transform="translate(246.5 228.4) scale(1.15 1)" stroke="#1c1c1c" stroke-width="0.18">1.0</text>
<rect x="22.8" y="232.8" width="234.0" height="14.599999999999994" fill="#dde0df"/>
<clipPath id="c4"><rect x="22.8" y="232.8" width="234.0" height="14.599999999999994"/></clipPath><g clip-path="url(#c4)">
<rect x="26.30" y="239.70" width="12" height="5.4" rx="2.7" fill="#000" opacity="1" filter="url(#b1)"/>
<rect x="41.60" y="239.60" width="13.4" height="5.6" rx="2.8" fill="#000" opacity="1" filter="url(#b1)"/>
<rect x="58.30" y="239.80" width="12" height="5.2" rx="2.6" fill="#000" opacity="1" filter="url(#b1)"/>
<rect x="73.90" y="238.20" width="12.8" height="7" rx="3" fill="#000" opacity="1" filter="url(#b1)"/>
<rect x="92.60" y="235.50" width="2.2" height="11" rx="3" fill="#000" opacity="0.3" filter="url(#b1)"/>
<rect x="92.30" y="234.50" width="2.8" height="3.6" rx="1.8" fill="#000" opacity="0.85" filter="url(#b1)"/>
<rect x="105.55" y="237.70" width="12.3" height="2.6" rx="1.3" fill="#000" opacity="0.97" filter="url(#b0)"/>
<rect x="105.55" y="240.90" width="12.3" height="2.6" rx="1.3" fill="#000" opacity="0.97" filter="url(#b0)"/>
<rect x="106.20" y="239.10" width="11" height="3" rx="1.5" fill="#000" opacity="0.5" filter="url(#b1)"/>
<rect x="121.55" y="237.85" width="12.3" height="2.3" rx="1.15" fill="#000" opacity="0.92" filter="url(#b0)"/>
<rect x="121.55" y="240.95" width="12.3" height="2.3" rx="1.15" fill="#000" opacity="0.92" filter="url(#b0)"/>
<rect x="122.20" y="239.10" width="11" height="3" rx="1.5" fill="#000" opacity="0.3" filter="url(#b1)"/>
<rect x="138.45" y="237.60" width="12.3" height="6" rx="3.0" fill="#000" opacity="1" filter="url(#b1)"/>
<rect x="156.30" y="238.60" width="12" height="1.4" rx="0.7" fill="#000" opacity="0.3" filter="url(#b1)"/>
<rect x="156.30" y="241.60" width="12" height="1.4" rx="0.7" fill="#000" opacity="0.25" filter="url(#b1)"/>
<rect x="188.50" y="238.60" width="13" height="5.6" rx="2.8" fill="#000" opacity="1" filter="url(#b1)"/>
<rect x="203.20" y="238.70" width="13" height="5.4" rx="2.7" fill="#000" opacity="1" filter="url(#b1)"/>
<rect x="219.30" y="238.60" width="13" height="5.6" rx="2.8" fill="#000" opacity="1" filter="url(#b1)"/>
<rect x="236.30" y="238.50" width="13" height="5.8" rx="2.9" fill="#000" opacity="1" filter="url(#b1)"/>
</g>
<path fill="#0c0c0c" fill-rule="evenodd" d="M22.8 232.8H256.8V247.4H22.8ZM24.3 234.10000000000002V245.4H255.0V234.10000000000002Z"/>
<text font-size="7.2" text-anchor="middle" fill="#1c1c1c" transform="translate(30.6 255.7) scale(1.15 1)" stroke="#1c1c1c" stroke-width="0.18">1</text>
<text font-size="7.2" text-anchor="middle" fill="#1c1c1c" transform="translate(48.3 255.7) scale(1.15 1)" stroke="#1c1c1c" stroke-width="0.18">0.9</text>
<text font-size="7.2" text-anchor="middle" fill="#1c1c1c" transform="translate(64.7 255.7) scale(1.15 1)" stroke="#1c1c1c" stroke-width="0.18">0.9</text>
<text font-size="7.2" text-anchor="middle" fill="#1c1c1c" transform="translate(80.3 255.7) scale(1.15 1)" stroke="#1c1c1c" stroke-width="0.18">0.8</text>
<text font-size="7.2" text-anchor="middle" fill="#1c1c1c" transform="translate(111.7 255.7) scale(1.15 1)" stroke="#1c1c1c" stroke-width="0.18">1</text>
<text font-size="7.2" text-anchor="middle" fill="#1c1c1c" transform="translate(128.8 255.7) scale(1.15 1)" stroke="#1c1c1c" stroke-width="0.18">0.6</text>
<text font-size="7.2" text-anchor="middle" fill="#1c1c1c" transform="translate(145.4 255.7) scale(1.15 1)" stroke="#1c1c1c" stroke-width="0.18">0.9</text>
<text font-size="7.2" text-anchor="middle" fill="#1c1c1c" transform="translate(162.6 255.7) scale(1.15 1)" stroke="#1c1c1c" stroke-width="0.18">0.4</text>
<text font-size="7.2" text-anchor="middle" fill="#1c1c1c" transform="translate(193.2 255.7) scale(1.15 1)" stroke="#1c1c1c" stroke-width="0.18">1</text>
<text font-size="7.2" text-anchor="middle" fill="#1c1c1c" transform="translate(211.2 255.7) scale(1.15 1)" stroke="#1c1c1c" stroke-width="0.18">0.8</text>
<text font-size="7.2" text-anchor="middle" fill="#1c1c1c" transform="translate(226.5 255.7) scale(1.15 1)" stroke="#1c1c1c" stroke-width="0.18">1.0</text>
<text font-size="7.2" text-anchor="middle" fill="#1c1c1c" transform="translate(241.8 255.7) scale(1.15 1)" stroke="#1c1c1c" stroke-width="0.18">0.9</text>
<rect x="22.8" y="258.8" width="234.0" height="19.399999999999977" fill="#dfe2e1"/>
<rect x="29.80" y="268.80" width="12" height="3.2" rx="1.6" fill="#000" opacity="1" filter="url(#b0)"/>
<rect x="44.70" y="268.80" width="11.8" height="3.2" rx="1.6" fill="#000" opacity="1" filter="url(#b0)"/>
<rect x="61.00" y="268.80" width="11" height="3.2" rx="1.6" fill="#000" opacity="1" filter="url(#b0)"/>
<rect x="76.00" y="268.80" width="11.6" height="3.2" rx="1.6" fill="#000" opacity="1" filter="url(#b0)"/>
<rect x="106.25" y="266.70" width="12.5" height="3.6" rx="1.8" fill="#000" opacity="1" filter="url(#b0)"/>
<rect x="122.05" y="266.70" width="12.5" height="3.6" rx="1.8" fill="#000" opacity="1" filter="url(#b0)"/>
<rect x="139.00" y="266.70" width="13" height="3.6" rx="1.8" fill="#000" opacity="1" filter="url(#b0)"/>
<rect x="155.30" y="266.70" width="12" height="3.6" rx="1.8" fill="#000" opacity="1" filter="url(#b0)"/>
<rect x="187.80" y="269.90" width="13.6" height="2.6" rx="1.3" fill="#000" opacity="1" filter="url(#b0)"/>
<rect x="204.30" y="269.90" width="12" height="2.6" rx="1.3" fill="#000" opacity="1" filter="url(#b0)"/>
<rect x="219.70" y="269.90" width="12.6" height="2.6" rx="1.3" fill="#000" opacity="1" filter="url(#b0)"/>
<rect x="235.30" y="269.90" width="13" height="2.6" rx="1.3" fill="#000" opacity="1" filter="url(#b0)"/>
<path fill="#0c0c0c" fill-rule="evenodd" d="M22.8 258.8H256.8V278.2H22.8ZM24.3 260.1V276.2H255.0V260.1Z"/>
<text font-size="7.2" text-anchor="middle" fill="#1c1c1c" transform="translate(35.4 286.5) scale(1.15 1)" stroke="#1c1c1c" stroke-width="0.18">1</text>
<text font-size="7.2" text-anchor="middle" fill="#1c1c1c" transform="translate(50.9 286.5) scale(1.15 1)" stroke="#1c1c1c" stroke-width="0.18">1.1</text>
<text font-size="7.2" text-anchor="middle" fill="#1c1c1c" transform="translate(67.3 286.5) scale(1.15 1)" stroke="#1c1c1c" stroke-width="0.18">1.0</text>
<text font-size="7.2" text-anchor="middle" fill="#1c1c1c" transform="translate(82 286.5) scale(1.15 1)" stroke="#1c1c1c" stroke-width="0.18">0.8</text>
<text font-size="7.2" text-anchor="middle" fill="#1c1c1c" transform="translate(112.9 286.5) scale(1.15 1)" stroke="#1c1c1c" stroke-width="0.18">1</text>
<text font-size="7.2" text-anchor="middle" fill="#1c1c1c" transform="translate(130.5 286.5) scale(1.15 1)" stroke="#1c1c1c" stroke-width="0.18">0.8</text>
<text font-size="7.2" text-anchor="middle" fill="#1c1c1c" transform="translate(146.5 286.5) scale(1.15 1)" stroke="#1c1c1c" stroke-width="0.18">1.0</text>
<text font-size="7.2" text-anchor="middle" fill="#1c1c1c" transform="translate(162.6 286.5) scale(1.15 1)" stroke="#1c1c1c" stroke-width="0.18">0.7</text>
<text font-size="7.2" text-anchor="middle" fill="#1c1c1c" transform="translate(193.2 286.5) scale(1.15 1)" stroke="#1c1c1c" stroke-width="0.18">1</text>
<text font-size="7.2" text-anchor="middle" fill="#1c1c1c" transform="translate(211.2 286.5) scale(1.15 1)" stroke="#1c1c1c" stroke-width="0.18">0.8</text>
<text font-size="7.2" text-anchor="middle" fill="#1c1c1c" transform="translate(226.5 286.5) scale(1.15 1)" stroke="#1c1c1c" stroke-width="0.18">0.8</text>
<text font-size="7.2" text-anchor="middle" fill="#1c1c1c" transform="translate(242.2 286.5) scale(1.15 1)" stroke="#1c1c1c" stroke-width="0.18">0.9</text>
<text font-size="7.2" text-anchor="middle" fill="#1c1c1c" transform="translate(35.8 305.6) scale(1.15 1)" font-style="italic" stroke="#1c1c1c" stroke-width="0.18">89</text>
<text font-size="7.2" text-anchor="middle" fill="#1c1c1c" transform="translate(51.8 305.6) scale(1.15 1)" font-style="italic" stroke="#1c1c1c" stroke-width="0.18">87</text>
<text font-size="7.2" text-anchor="middle" fill="#1c1c1c" transform="translate(67.8 305.6) scale(1.15 1)" font-style="italic" stroke="#1c1c1c" stroke-width="0.18">88</text>
<text font-size="7.2" text-anchor="middle" fill="#1c1c1c" transform="translate(81.5 305.6) scale(1.15 1)" font-style="italic" stroke="#1c1c1c" stroke-width="0.18">61</text>
<text font-size="7.2" text-anchor="middle" fill="#1c1c1c" transform="translate(113.5 305.6) scale(1.15 1)" font-style="italic" stroke="#1c1c1c" stroke-width="0.18">87</text>
<text font-size="7.2" text-anchor="middle" fill="#1c1c1c" transform="translate(131.5 305.6) scale(1.15 1)" font-style="italic" stroke="#1c1c1c" stroke-width="0.18">43</text>
<text font-size="7.2" text-anchor="middle" fill="#1c1c1c" transform="translate(149.5 305.6) scale(1.15 1)" font-style="italic" stroke="#1c1c1c" stroke-width="0.18">77</text>
<text font-size="7.2" text-anchor="middle" fill="#1c1c1c" transform="translate(165.5 305.6) scale(1.15 1)" font-style="italic" stroke="#1c1c1c" stroke-width="0.18">35</text>
<text font-size="7.2" text-anchor="middle" fill="#1c1c1c" transform="translate(195.5 305.6) scale(1.15 1)" font-style="italic" stroke="#1c1c1c" stroke-width="0.18">88</text>
<text font-size="7.2" text-anchor="middle" fill="#1c1c1c" transform="translate(212.5 305.6) scale(1.15 1)" font-style="italic" stroke="#1c1c1c" stroke-width="0.18">69</text>
<text font-size="7.2" text-anchor="middle" fill="#1c1c1c" transform="translate(228.5 305.6) scale(1.15 1)" font-style="italic" stroke="#1c1c1c" stroke-width="0.18">78</text>
<text font-size="7.2" text-anchor="middle" fill="#1c1c1c" transform="translate(244.5 305.6) scale(1.15 1)" font-style="italic" stroke="#1c1c1c" stroke-width="0.18">56</text>
<text font-size="8.1" text-anchor="start" fill="#1c1c1c" transform="translate(260.8 83.2) scale(0.9481481481481482 1)"  stroke="#1c1c1c" stroke-width="0.14">Caspase 3 Full</text>
<text font-size="8.1" text-anchor="start" fill="#1c1c1c" transform="translate(260.8 108.8) scale(0.9619753086419753 1)"  stroke="#1c1c1c" stroke-width="0.14">Caspase 3</text>
<text font-size="8.1" text-anchor="start" fill="#1c1c1c" transform="translate(260.8 118.8) scale(0.9797530864197531 1)"  stroke="#1c1c1c" stroke-width="0.14">Cleaved (p19/p17)</text>
<text font-size="8.1" text-anchor="start" fill="#1c1c1c" transform="translate(262 148.8) scale(0.9550617283950618 1)"  stroke="#1c1c1c" stroke-width="0.14">Caspase 9 Full</text>
<text font-size="8.1" text-anchor="start" fill="#1c1c1c" transform="translate(260.5 158.8) scale(0.9698765432098766 1)"  stroke="#1c1c1c" stroke-width="0.14">Caspase 9 Cleaved</text>
<text font-size="8.1" text-anchor="start" fill="#1c1c1c" transform="translate(260.5 168.8) scale(1.0409876543209877 1)"  stroke="#1c1c1c" stroke-width="0.14">(p39/p37/p31/p30)</text>
<text font-size="8.1" text-anchor="start" fill="#1c1c1c" transform="translate(260.5 193.5) scale(0.9708641975308642 1)"  stroke="#1c1c1c" stroke-width="0.14">Caspase 9 Cleaved (p17)</text>
<text font-size="8.1" text-anchor="start" fill="#1c1c1c" transform="translate(259.5 241.8) scale(0.9955555555555556 1)"  stroke="#1c1c1c" stroke-width="0.14">Caspase 8 Full (p55/p53)</text>
<text font-size="8.1" text-anchor="start" fill="#1c1c1c" transform="translate(260.5 271.5) scale(0.9777777777777779 1)"  stroke="#1c1c1c" stroke-width="0.14">Gapdh</text>
<text font-size="8.1" text-anchor="start" fill="#1c1c1c" transform="translate(260 305.3) scale(0.928395061728395 1)"  stroke="#1c1c1c" stroke-width="0.14">Viability</text>
<text x="381.5" y="68.6" font-size="8" text-anchor="end" fill="#1c1c1c"  stroke="#1c1c1c" stroke-width="0.14">BAX</text>
<text x="381.5" y="91.8" font-size="8" text-anchor="end" fill="#1c1c1c"  stroke="#1c1c1c" stroke-width="0.14">BAK1</text>
<text x="381.5" y="114.5" font-size="8" text-anchor="end" fill="#1c1c1c"  stroke="#1c1c1c" stroke-width="0.14">GAPDH</text>
<text font-size="8.1" text-anchor="start" fill="#1c1c1c" transform="translate(395.5 57.8) rotate(-45)" xml:space="preserve" stroke="#1c1c1c" stroke-width="0.14">Z EV</text>
<text font-size="8.1" text-anchor="start" fill="#1c1c1c" transform="translate(412.1 57.8) rotate(-45)" xml:space="preserve" stroke="#1c1c1c" stroke-width="0.14">Z <tspan font-style="italic">shBAX</tspan></text>
<text font-size="8.1" text-anchor="start" fill="#1c1c1c" transform="translate(430.4 57.8) rotate(-45)" xml:space="preserve" stroke="#1c1c1c" stroke-width="0.14">Z <tspan font-style="italic">shBAK1</tspan></text>
<text font-size="8.1" text-anchor="start" fill="#1c1c1c" transform="translate(457.5 57.8) rotate(-45)" xml:space="preserve" stroke="#1c1c1c" stroke-width="0.14">J EV</text>
<text font-size="8.1" text-anchor="start" fill="#1c1c1c" transform="translate(473 57.8) rotate(-45)" xml:space="preserve" stroke="#1c1c1c" stroke-width="0.14">J <tspan font-style="italic">shBAX</tspan></text>
<text font-size="8.1" text-anchor="start" fill="#1c1c1c" transform="translate(489 57.8) rotate(-45)" xml:space="preserve" stroke="#1c1c1c" stroke-width="0.14">J <tspan font-style="italic">shBAK1</tspan></text>
<rect x="385.9" y="60.5" width="51.10000000000002" height="11.5" fill="#e0e3e2"/>
<clipPath id="p1"><rect x="385.9" y="60.5" width="51.10000000000002" height="11.5"/></clipPath><g clip-path="url(#p1)">
<rect x="387.10" y="63.10" width="17.4" height="5.2" rx="2.6" fill="#000" opacity="1" filter="url(#b1)"/>
<rect x="409.50" y="65.50" width="5" height="2" rx="1.0" fill="#000" opacity="0.08" filter="url(#b2)"/>
<rect x="424.25" y="64.50" width="10.5" height="4" rx="2.0" fill="#000" opacity="1" filter="url(#b1)"/>
</g>
<path fill="#0c0c0c" fill-rule="evenodd" d="M385.9 60.5H437V72H385.9ZM387.09999999999997 61.7V70.7H435.8V61.7Z"/>
<rect x="443.9" y="60.5" width="50.200000000000045" height="11.5" fill="#e0e3e2"/>
<clipPath id="p2"><rect x="443.9" y="60.5" width="50.200000000000045" height="11.5"/></clipPath><g clip-path="url(#p2)">
<rect x="445.95" y="66.10" width="16.5" height="4.2" rx="2.1" fill="#000" opacity="1" filter="url(#b1)"/>
<rect x="447.00" y="68.05" width="6" height="2.5" rx="1.25" fill="#000" opacity="0.9" filter="url(#b0)"/>
<rect x="481.50" y="66.55" width="10.6" height="3.3" rx="1.65" fill="#000" opacity="1" filter="url(#b1)"/>
</g>
<path fill="#0c0c0c" fill-rule="evenodd" d="M443.9 60.5H494.1V72H443.9ZM445.09999999999997 61.7V70.7H492.90000000000003V61.7Z"/>
<text font-size="7.2" text-anchor="middle" fill="#1c1c1c" transform="translate(395.5 80) scale(1.15 1)" stroke="#1c1c1c" stroke-width="0.18">1.0</text>
<text font-size="7.2" text-anchor="middle" fill="#1c1c1c" transform="translate(412 80) scale(1.15 1)" stroke="#1c1c1c" stroke-width="0.18">.00</text>
<text font-size="7.2" text-anchor="middle" fill="#1c1c1c" transform="translate(430.4 80) scale(1.15 1)" stroke="#1c1c1c" stroke-width="0.18">1.0</text>
<text font-size="7.2" text-anchor="middle" fill="#1c1c1c" transform="translate(452.8 80) scale(1.15 1)" stroke="#1c1c1c" stroke-width="0.18">1.0</text>
<text font-size="7.2" text-anchor="middle" fill="#1c1c1c" transform="translate(469.7 80) scale(1.15 1)" stroke="#1c1c1c" stroke-width="0.18">.01</text>
<text font-size="7.2" text-anchor="middle" fill="#1c1c1c" transform="translate(486.8 80) scale(1.15 1)" stroke="#1c1c1c" stroke-width="0.18">.66</text>
<rect x="385.9" y="82.3" width="51.10000000000002" height="11.400000000000006" fill="#e0e3e2"/>
<clipPath id="p3"><rect x="385.9" y="82.3" width="51.10000000000002" height="11.400000000000006"/></clipPath><g clip-path="url(#p3)">
<rect x="388.00" y="89.60" width="11.8" height="2.4" rx="1.2" fill="#000" opacity="0.95" filter="url(#b0)"/>
<rect x="405.25" y="89.45" width="10.5" height="2.3" rx="1.15" fill="#000" opacity="0.9" filter="url(#b0)"/>
<rect x="414.50" y="90.10" width="5" height="1.6" rx="0.8" fill="#000" opacity="0.4" filter="url(#b1)"/>
</g>
<path fill="#0c0c0c" fill-rule="evenodd" d="M385.9 82.3H437V93.7H385.9ZM387.09999999999997 83.5V92.4H435.8V83.5Z"/>
<rect x="443.9" y="82.3" width="50.200000000000045" height="11.400000000000006" fill="#e0e3e2"/>
<clipPath id="p4"><rect x="443.9" y="82.3" width="50.200000000000045" height="11.400000000000006"/></clipPath><g clip-path="url(#p4)">
<rect x="447.90" y="87.30" width="13.8" height="4" rx="2.0" fill="#000" opacity="1" filter="url(#b1)"/>
<rect x="465.00" y="87.30" width="13.2" height="4" rx="2.0" fill="#000" opacity="1" filter="url(#b1)"/>
<rect x="482.50" y="88.50" width="8" height="1.4" rx="0.7" fill="#000" opacity="0.3" filter="url(#b1)"/>
</g>
<path fill="#0c0c0c" fill-rule="evenodd" d="M443.9 82.3H494.1V93.7H443.9ZM445.09999999999997 83.5V92.4H492.90000000000003V83.5Z"/>
<text font-size="7.2" text-anchor="middle" fill="#1c1c1c" transform="translate(395.5 102.2) scale(1.15 1)" stroke="#1c1c1c" stroke-width="0.18">1.0</text>
<text font-size="7.2" text-anchor="middle" fill="#1c1c1c" transform="translate(412 102.2) scale(1.15 1)" stroke="#1c1c1c" stroke-width="0.18">.84</text>
<text font-size="7.2" text-anchor="middle" fill="#1c1c1c" transform="translate(429 102.2) scale(1.15 1)" stroke="#1c1c1c" stroke-width="0.18">.09</text>
<text font-size="7.2" text-anchor="middle" fill="#1c1c1c" transform="translate(452.8 102.2) scale(1.15 1)" stroke="#1c1c1c" stroke-width="0.18">1.0</text>
<text font-size="7.2" text-anchor="middle" fill="#1c1c1c" transform="translate(470 102.2) scale(1.15 1)" stroke="#1c1c1c" stroke-width="0.18">1.0</text>
<text font-size="7.2" text-anchor="middle" fill="#1c1c1c" transform="translate(485.5 102.2) scale(1.15 1)" stroke="#1c1c1c" stroke-width="0.18">.17</text>
<rect x="385.9" y="105.8" width="51.10000000000002" height="11.799999999999997" fill="#e0e3e2"/>
<clipPath id="p5"><rect x="385.9" y="105.8" width="51.10000000000002" height="11.799999999999997"/></clipPath><g clip-path="url(#p5)">
<rect x="387.30" y="111.55" width="13.8" height="2.5" rx="1.25" fill="#000" opacity="0.95" filter="url(#b0)"/>
<rect x="405.05" y="111.70" width="13.9" height="2.4" rx="1.2" fill="#000" opacity="0.95" filter="url(#b0)"/>
<rect x="423.50" y="111.70" width="10" height="2.4" rx="1.2" fill="#000" opacity="0.95" filter="url(#b0)"/>
<rect x="393.00" y="107.10" width="8" height="3" rx="1.5" fill="#000" opacity="0.12" filter="url(#b2)"/>
</g>
<path fill="#0c0c0c" fill-rule="evenodd" d="M385.9 105.8H437V117H385.9ZM387.09999999999997 107.0V115.7H435.8V107.0Z"/>
<rect x="443.9" y="105.8" width="50.200000000000045" height="11.799999999999997" fill="#e0e3e2"/>
<clipPath id="p6"><rect x="443.9" y="105.8" width="50.200000000000045" height="11.799999999999997"/></clipPath><g clip-path="url(#p6)">
<rect x="446.60" y="112.30" width="13.2" height="2" rx="1.0" fill="#000" opacity="0.95" filter="url(#b0)"/>
<rect x="464.45" y="112.00" width="12.5" height="2.2" rx="1.1" fill="#000" opacity="0.95" filter="url(#b0)"/>
<rect x="481.50" y="111.50" width="10" height="3" rx="1.5" fill="#000" opacity="0.95" filter="url(#b0)"/>
<rect x="482.00" y="107.50" width="9" height="4" rx="2.0" fill="#000" opacity="0.14" filter="url(#b2)"/>
</g>
<path fill="#0c0c0c" fill-rule="evenodd" d="M443.9 105.8H494.1V117H443.9ZM445.09999999999997 107.0V115.7H492.90000000000003V107.0Z"/>
<rect x="103.20" y="384.00" width="6.6" height="92.20" fill="#194c88"/>
<rect x="113.70" y="447.16" width="6.6" height="29.04" fill="#194c88"/>
<rect x="124.20" y="386.58" width="6.6" height="89.62" fill="#194c88"/>
<rect x="134.60" y="468.36" width="6.6" height="7.84" fill="#194c88"/>
<rect x="151.80" y="384.00" width="6.6" height="92.20" fill="#31a6df"/>
<rect x="162.30" y="398.29" width="6.6" height="77.91" fill="#31a6df"/>
<rect x="172.60" y="386.21" width="6.6" height="89.99" fill="#31a6df"/>
<rect x="183.00" y="398.75" width="6.6" height="77.45" fill="#31a6df"/>
<rect x="200.70" y="384.00" width="6.6" height="92.20" fill="#36a531"/>
<rect x="211.20" y="451.49" width="6.6" height="24.71" fill="#36a531"/>
<rect x="221.70" y="390.64" width="6.6" height="85.56" fill="#36a531"/>
<rect x="232.00" y="467.90" width="6.6" height="8.30" fill="#36a531"/>
<path d="M116.90 440.24V454.07M114.90 440.24H118.90M114.90 454.07H118.90" stroke="#0c2444" stroke-width="1" fill="none"/>
<path d="M127.40 378.74V394.42M125.40 378.74H129.40M125.40 394.42H129.40" stroke="#0c2444" stroke-width="1" fill="none"/>
<path d="M137.80 463.29V473.43M135.80 463.29H139.80M135.80 473.43H139.80" stroke="#0c2444" stroke-width="1" fill="none"/>
<path d="M165.50 392.76V403.82M163.50 392.76H167.50M163.50 403.82H167.50" stroke="#103a5e" stroke-width="1" fill="none"/>
<path d="M175.80 385.11V387.32M173.80 385.11H177.80M173.80 387.32H177.80" stroke="#103a5e" stroke-width="1" fill="none"/>
<path d="M186.20 393.68V403.82M184.20 393.68H188.20M184.20 403.82H188.20" stroke="#103a5e" stroke-width="1" fill="none"/>
<path d="M214.40 441.35V461.63M212.40 441.35H216.40M212.40 461.63H216.40" stroke="#143d14" stroke-width="1" fill="none"/>
<path d="M224.90 383.72V397.55M222.90 383.72H226.90M222.90 397.55H226.90" stroke="#143d14" stroke-width="1" fill="none"/>
<path d="M235.20 457.30V475.60M233.20 457.30H237.20M233.20 475.60H237.20" stroke="#143d14" stroke-width="1" fill="none"/>
<path d="M99.2 363.2V476.2H243" stroke="#111" stroke-width="1.3" fill="none" stroke-linejoin="miter"/>
<path d="M96.0 476.20H99.2M97.7 466.98H99.2M97.7 457.76H99.2M97.7 448.54H99.2M97.7 439.32H99.2M96.0 430.10H99.2M97.7 420.88H99.2M97.7 411.66H99.2M97.7 402.44H99.2M97.7 393.22H99.2M96.0 384.00H99.2M97.7 374.78H99.2M97.7 365.56H99.2" stroke="#222" stroke-width="0.8" fill="none"/>
<path d="M106.40 476.2V479.2M116.90 476.2V479.2M127.40 476.2V479.2M137.80 476.2V479.2M155.00 476.2V479.2M165.50 476.2V479.2M175.80 476.2V479.2M186.20 476.2V479.2M203.90 476.2V479.2M214.40 476.2V479.2M224.90 476.2V479.2M235.20 476.2V479.2" stroke="#222" stroke-width="0.8" fill="none"/>
<text font-size="7.8" text-anchor="end" fill="#1c1c1c" transform="translate(94.3 478.9) scale(1.04 1)" stroke="#1c1c1c" stroke-width="0.15">0.0</text>
<text font-size="7.8" text-anchor="end" fill="#1c1c1c" transform="translate(94.3 432.79999999999995) scale(1.04 1)" stroke="#1c1c1c" stroke-width="0.15">0.5</text>
<text font-size="7.8" text-anchor="end" fill="#1c1c1c" transform="translate(94.3 386.7) scale(1.04 1)" stroke="#1c1c1c" stroke-width="0.15">1.0</text>
<text font-size="8" text-anchor="end" fill="#1c1c1c" transform="translate(110.0 484.4) rotate(-45) scale(0.98 1)" stroke="#1c1c1c" stroke-width="0.15">DMSO</text>
<text font-size="8" text-anchor="end" fill="#1c1c1c" transform="translate(120.5 484.4) rotate(-45) scale(0.93 1)" stroke="#1c1c1c" stroke-width="0.15">Ven</text>
<text font-size="8" text-anchor="end" fill="#1c1c1c" transform="translate(131.0 484.4) rotate(-45) scale(0.98 1)" stroke="#1c1c1c" stroke-width="0.15">PRT</text>
<text font-size="8" text-anchor="end" fill="#1c1c1c" transform="translate(141.4 484.4) rotate(-45) scale(0.93 1)" stroke="#1c1c1c" stroke-width="0.15">Combo</text>
<text font-size="8" text-anchor="end" fill="#1c1c1c" transform="translate(158.6 484.4) rotate(-45) scale(0.98 1)" stroke="#1c1c1c" stroke-width="0.15">DMSO</text>
<text font-size="8" text-anchor="end" fill="#1c1c1c" transform="translate(169.1 484.4) rotate(-45) scale(0.93 1)" stroke="#1c1c1c" stroke-width="0.15">Ven</text>
<text font-size="8" text-anchor="end" fill="#1c1c1c" transform="translate(179.4 484.4) rotate(-45) scale(0.98 1)" stroke="#1c1c1c" stroke-width="0.15">PRT</text>
<text font-size="8" text-anchor="end" fill="#1c1c1c" transform="translate(189.79999999999998 484.4) rotate(-45) scale(0.93 1)" stroke="#1c1c1c" stroke-width="0.15">Combo</text>
<text font-size="8" text-anchor="end" fill="#1c1c1c" transform="translate(207.5 484.4) rotate(-45) scale(0.98 1)" stroke="#1c1c1c" stroke-width="0.15">DMSO</text>
<text font-size="8" text-anchor="end" fill="#1c1c1c" transform="translate(218.0 484.4) rotate(-45) scale(0.93 1)" stroke="#1c1c1c" stroke-width="0.15">Ven</text>
<text font-size="8" text-anchor="end" fill="#1c1c1c" transform="translate(228.5 484.4) rotate(-45) scale(0.98 1)" stroke="#1c1c1c" stroke-width="0.15">PRT</text>
<text font-size="8" text-anchor="end" fill="#1c1c1c" transform="translate(238.79999999999998 484.4) rotate(-45) scale(0.93 1)" stroke="#1c1c1c" stroke-width="0.15">Combo</text>
<text x="171" y="354.2" font-size="7.9" text-anchor="middle" fill="#111" stroke="#1c1c1c" stroke-width="0.15">Z-138 Viability</text>
<text transform="translate(76.5 419.2) rotate(-90) scale(0.774 1)" font-size="8.8" text-anchor="middle" fill="#111" stroke="#111" stroke-width="0.25">Normalized viability (annex/PI)</text>
<path d="M137.8 457.5V370H186.2V390" stroke="#111" stroke-width="1" fill="none"/>
<text x="162.3" y="369.8" font-size="7.5" text-anchor="middle" fill="#111" font-weight="bold" letter-spacing="0.1" stroke="#111" stroke-width="0.14">****</text>
<rect x="72.5" y="515" width="9.5" height="4.6" fill="#194c88"/>
<text x="85" y="519.9" font-size="7.2" text-anchor="start" fill="#1c1c1c" stroke="#1c1c1c" stroke-width="0.15">Empty Vector</text>
<rect x="132" y="515" width="9.5" height="4.6" fill="#31a6df"/>
<text x="143.2" y="519.9" font-size="7.2" text-anchor="start" fill="#1c1c1c" stroke="#1c1c1c" stroke-width="0.15">BAX shRNA</text>
<rect x="186.2" y="515" width="9.5" height="4.6" fill="#36a531"/>
<text x="198.8" y="519.9" font-size="7.2" text-anchor="start" fill="#1c1c1c" stroke="#1c1c1c" stroke-width="0.15">BAK1 shRNA</text>
<rect x="330.30" y="385.60" width="6.6" height="90.50" fill="#194c88"/>
<rect x="340.60" y="418.81" width="6.6" height="57.29" fill="#194c88"/>
<rect x="351.20" y="386.05" width="6.6" height="90.05" fill="#194c88"/>
<rect x="361.40" y="419.36" width="6.6" height="56.74" fill="#194c88"/>
<rect x="378.80" y="385.60" width="6.6" height="90.50" fill="#31a6df"/>
<rect x="389.10" y="400.44" width="6.6" height="75.66" fill="#31a6df"/>
<rect x="399.70" y="389.22" width="6.6" height="86.88" fill="#31a6df"/>
<rect x="410.00" y="406.23" width="6.6" height="69.87" fill="#31a6df"/>
<rect x="427.40" y="385.60" width="6.6" height="90.50" fill="#36a531"/>
<rect x="437.90" y="404.88" width="6.6" height="71.22" fill="#36a531"/>
<rect x="448.70" y="387.41" width="6.6" height="88.69" fill="#36a531"/>
<rect x="459.00" y="404.42" width="6.6" height="71.68" fill="#36a531"/>
<path d="M343.80 406.60V431.03M341.80 406.60H345.80M341.80 431.03H345.80" stroke="#0c2444" stroke-width="1" fill="none"/>
<path d="M354.40 378.99V393.11M352.40 378.99H356.40M352.40 393.11H356.40" stroke="#0c2444" stroke-width="1" fill="none"/>
<path d="M364.60 405.33V433.38M362.60 405.33H366.60M362.60 433.38H366.60" stroke="#0c2444" stroke-width="1" fill="none"/>
<path d="M392.30 396.64V404.24M390.30 396.64H394.30M390.30 404.24H394.30" stroke="#103a5e" stroke-width="1" fill="none"/>
<path d="M402.90 386.32V392.12M400.90 386.32H404.90M400.90 392.12H404.90" stroke="#103a5e" stroke-width="1" fill="none"/>
<path d="M413.20 399.27V413.20M411.20 399.27H415.20M411.20 413.20H415.20" stroke="#103a5e" stroke-width="1" fill="none"/>
<path d="M441.10 398.18V411.57M439.10 398.18H443.10M439.10 411.57H443.10" stroke="#143d14" stroke-width="1" fill="none"/>
<path d="M451.90 385.15V389.67M449.90 385.15H453.90M449.90 389.67H453.90" stroke="#143d14" stroke-width="1" fill="none"/>
<path d="M462.20 395.56V413.29M460.20 395.56H464.20M460.20 413.29H464.20" stroke="#143d14" stroke-width="1" fill="none"/>
<path d="M326.5 363.2V476.1H469.5" stroke="#111" stroke-width="1.3" fill="none" stroke-linejoin="miter"/>
<path d="M323.3 476.10H326.5M325.0 467.05H326.5M325.0 458.00H326.5M325.0 448.95H326.5M325.0 439.90H326.5M323.3 430.85H326.5M325.0 421.80H326.5M325.0 412.75H326.5M325.0 403.70H326.5M325.0 394.65H326.5M323.3 385.60H326.5M325.0 376.55H326.5M325.0 367.50H326.5" stroke="#222" stroke-width="0.8" fill="none"/>
<path d="M333.50 476.1V479.1M343.80 476.1V479.1M354.40 476.1V479.1M364.60 476.1V479.1M382.00 476.1V479.1M392.30 476.1V479.1M402.90 476.1V479.1M413.20 476.1V479.1M430.60 476.1V479.1M441.10 476.1V479.1M451.90 476.1V479.1M462.20 476.1V479.1" stroke="#222" stroke-width="0.8" fill="none"/>
<text font-size="7.8" text-anchor="end" fill="#1c1c1c" transform="translate(320.0 478.8) scale(1.04 1)" stroke="#1c1c1c" stroke-width="0.15">0.0</text>
<text font-size="7.8" text-anchor="end" fill="#1c1c1c" transform="translate(320.0 433.55) scale(1.04 1)" stroke="#1c1c1c" stroke-width="0.15">0.5</text>
<text font-size="7.8" text-anchor="end" fill="#1c1c1c" transform="translate(320.0 388.3) scale(1.04 1)" stroke="#1c1c1c" stroke-width="0.15">1.0</text>
<text font-size="8" text-anchor="end" fill="#1c1c1c" transform="translate(337.1 484.3) rotate(-45) scale(0.98 1)" stroke="#1c1c1c" stroke-width="0.15">DMSO</text>
<text font-size="8" text-anchor="end" fill="#1c1c1c" transform="translate(347.40000000000003 484.3) rotate(-45) scale(0.93 1)" stroke="#1c1c1c" stroke-width="0.15">Ven</text>
<text font-size="8" text-anchor="end" fill="#1c1c1c" transform="translate(358.0 484.3) rotate(-45) scale(0.98 1)" stroke="#1c1c1c" stroke-width="0.15">PRT</text>
<text font-size="8" text-anchor="end" fill="#1c1c1c" transform="translate(368.20000000000005 484.3) rotate(-45) scale(0.93 1)" stroke="#1c1c1c" stroke-width="0.15">Combo</text>
<text font-size="8" text-anchor="end" fill="#1c1c1c" transform="translate(385.6 484.3) rotate(-45) scale(0.98 1)" stroke="#1c1c1c" stroke-width="0.15">DMSO</text>
<text font-size="8" text-anchor="end" fill="#1c1c1c" transform="translate(395.90000000000003 484.3) rotate(-45) scale(0.93 1)" stroke="#1c1c1c" stroke-width="0.15">Ven</text>
<text font-size="8" text-anchor="end" fill="#1c1c1c" transform="translate(406.5 484.3) rotate(-45) scale(0.98 1)" stroke="#1c1c1c" stroke-width="0.15">PRT</text>
<text font-size="8" text-anchor="end" fill="#1c1c1c" transform="translate(416.8 484.3) rotate(-45) scale(0.93 1)" stroke="#1c1c1c" stroke-width="0.15">Combo</text>
<text font-size="8" text-anchor="end" fill="#1c1c1c" transform="translate(434.20000000000005 484.3) rotate(-45) scale(0.98 1)" stroke="#1c1c1c" stroke-width="0.15">DMSO</text>
<text font-size="8" text-anchor="end" fill="#1c1c1c" transform="translate(444.70000000000005 484.3) rotate(-45) scale(0.93 1)" stroke="#1c1c1c" stroke-width="0.15">Ven</text>
<text font-size="8" text-anchor="end" fill="#1c1c1c" transform="translate(455.5 484.3) rotate(-45) scale(0.98 1)" stroke="#1c1c1c" stroke-width="0.15">PRT</text>
<text font-size="8" text-anchor="end" fill="#1c1c1c" transform="translate(465.8 484.3) rotate(-45) scale(0.93 1)" stroke="#1c1c1c" stroke-width="0.15">Combo</text>
<text x="398.3" y="354.2" font-size="7.55" text-anchor="middle" fill="#111" stroke="#1c1c1c" stroke-width="0.15">Jeko Viability</text>
<text transform="translate(303.8 419.2) rotate(-90) scale(0.774 1)" font-size="8.8" text-anchor="middle" fill="#111" stroke="#111" stroke-width="0.25">Normalized viability (annex/PI)</text>
<path d="M364.6 398V377H413.2V392.5" stroke="#111" stroke-width="1" fill="none"/>
<text x="389.3" y="375.5" font-size="7.5" text-anchor="middle" fill="#111" font-weight="bold" letter-spacing="0.1" stroke="#111" stroke-width="0.14">*</text>
<path d="M364.6 371.3V365.8H462.2V390" stroke="#111" stroke-width="1" fill="none"/>
<text x="413.8" y="364.3" font-size="7.5" text-anchor="middle" fill="#111" font-weight="bold" letter-spacing="0.1" stroke="#111" stroke-width="0.14">*</text>
<rect x="299.5" y="515" width="9.5" height="4.6" fill="#194c88"/>
<text x="312" y="519.9" font-size="7.2" text-anchor="start" fill="#1c1c1c" stroke="#1c1c1c" stroke-width="0.15">Empty Vector</text>
<rect x="358.8" y="515" width="9.5" height="4.6" fill="#31a6df"/>
<text x="370" y="519.9" font-size="7.2" text-anchor="start" fill="#1c1c1c" stroke="#1c1c1c" stroke-width="0.15">BAX shRNA</text>
<rect x="413" y="515" width="9.5" height="4.6" fill="#36a531"/>
<text x="425.8" y="519.9" font-size="7.2" text-anchor="start" fill="#1c1c1c" stroke="#1c1c1c" stroke-width="0.15">BAK1 shRNA</text>
</g>
<rect x="0.5" y="0.5" width="519" height="530" fill="none" stroke="#555" stroke-width="1"/>
</svg>
</body></html>
